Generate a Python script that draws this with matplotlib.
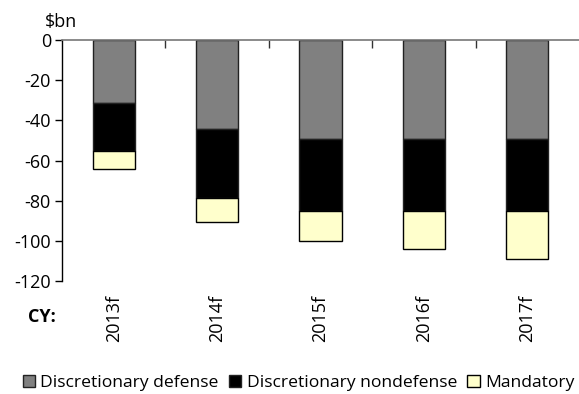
import matplotlib
matplotlib.use("Agg")
import matplotlib.pyplot as plt
import numpy as np

years = ["2013f", "2014f", "2015f", "2016f", "2017f"]
defense = [-31.5, -44.5, -49.2, -49.2, -49.2]
nondefense = [-23.8, -34.3, -35.8, -35.8, -35.8]
mandatory = [-8.7, -11.8, -15.0, -18.9, -23.9]
yticks = [0, -20, -40, -60, -80, -100, -120]

plt.rcParams['font.family'] = ['Open Sans', 'DejaVu Sans']
FS = 13

fig = plt.figure(figsize=(5.79, 3.94), dpi=100)
ax = fig.add_axes([62/579, 1-281/394, 1-62/579, (281-40)/394])

x = np.arange(len(years))
w = 0.41
d = np.array(defense)
n = np.array(nondefense)
m = np.array(mandatory)
ax.bar(x, d, w, color='#808080', edgecolor='#222222', linewidth=1.0, label='Discretionary defense')
ax.bar(x, n, w, bottom=d, color='black', edgecolor='#222222', linewidth=1.0, label='Discretionary nondefense')
ax.bar(x, m, w, bottom=d+n, color='#FFFFCC', edgecolor='black', linewidth=1.0, label='Mandatory')

ax.set_xlim(-0.5, len(years)-0.5)
ax.set_ylim(-120, 0)
ax.set_yticks(yticks)
ax.set_yticklabels([str(v) for v in yticks], fontsize=FS)
ax.tick_params(axis='y', direction='out', length=5, width=1, pad=3)

for s in ['bottom', 'right']:
    ax.spines[s].set_visible(False)
ax.spines['top'].set_color('#777777')
ax.spines['top'].set_linewidth(1.2)
ax.spines['left'].set_color('black')
ax.spines['left'].set_linewidth(1)

ax.set_xticks(x)
ax.set_xticklabels(years, rotation=90, fontsize=FS)
ax.tick_params(axis='x', which='major', length=0, pad=10)
ax.set_xticks(np.arange(0.5, len(years)-0.5, 1), minor=True)
ax.tick_params(axis='x', which='minor', top=True, bottom=False, direction='in', length=6, width=1, color='#333333')

fig.text(28/579, 1-317/394, 'CY:', fontsize=FS, fontweight='bold', va='center', ha='left')
fig.text(45/579, 1-22/394, '$bn', fontsize=FS, va='center', ha='left')

leg = fig.legend(loc='center', bbox_to_anchor=(298.5/579, 1-383/394), ncol=3, frameon=False,
                 fontsize=12.6, handlelength=0.7, handleheight=0.7, handletextpad=0.3,
                 columnspacing=0.6, borderpad=0)

fig.savefig('out.png', dpi=100)
